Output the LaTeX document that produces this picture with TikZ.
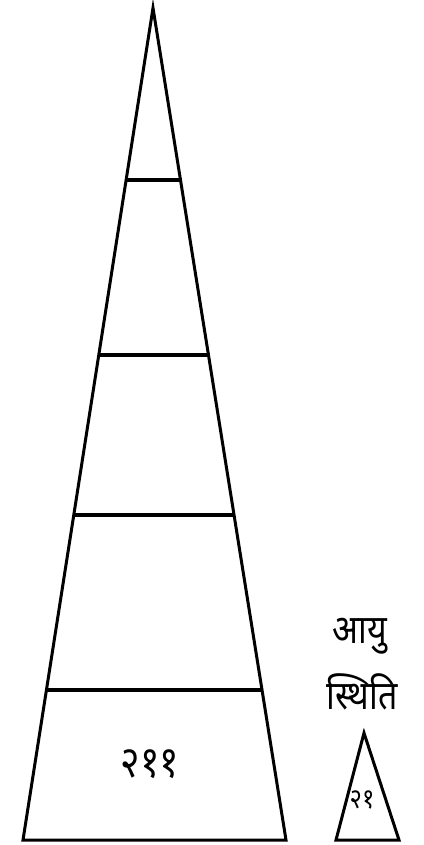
\documentclass[tikz,border=0pt]{standalone}
\usepackage{fontspec}
\newfontfamily\devfont[Script=Devanagari]{Noto Sans}
\begin{document}
\begin{tikzpicture}[x=1pt,y=-1pt,
  edge/.style={line width=3pt,line join=miter},
  bar/.style={line width=4.5pt},
  lbl/.style={font=\devfont\fontsize{40}{44}\selectfont,inner sep=0pt,xscale=0.85}]
\useasboundingbox (0,0) rectangle (423,845);
% big triangle
\coordinate (A) at (153,8);
\coordinate (BL) at (23,840);
\coordinate (BR) at (286,840);
\draw[edge] (A) -- (BL) -- (BR) -- cycle;
% bars
\foreach \y/\n in {180/a,355/b,515/c,690/d}{
  \pgfmathsetmacro{\hw}{(131.5/832)*(\y-8)}
  \coordinate (L\n) at ({153-\hw+1},\y);
  \coordinate (R\n) at ({153+\hw+2},\y);
  \draw[bar] (L\n) -- (R\n);
}
\node[lbl,font=\devfont\fontsize{44}{48}\selectfont] (big) at (150,764) {२११};
% small triangle
\coordinate (sA) at (364,733);
\coordinate (sL) at (336,840);
\coordinate (sR) at (399,840);
\draw[edge] (sA) -- (sL) -- (sR) -- cycle;
\node[lbl,font=\devfont\fontsize{28}{30}\selectfont] (small) at (362,800) {२१};
\node[lbl] (ayu) at (360,636) {आयु};
\node[lbl] (sthiti) at (362,692) {स्थिति};
\end{tikzpicture}
\end{document}
